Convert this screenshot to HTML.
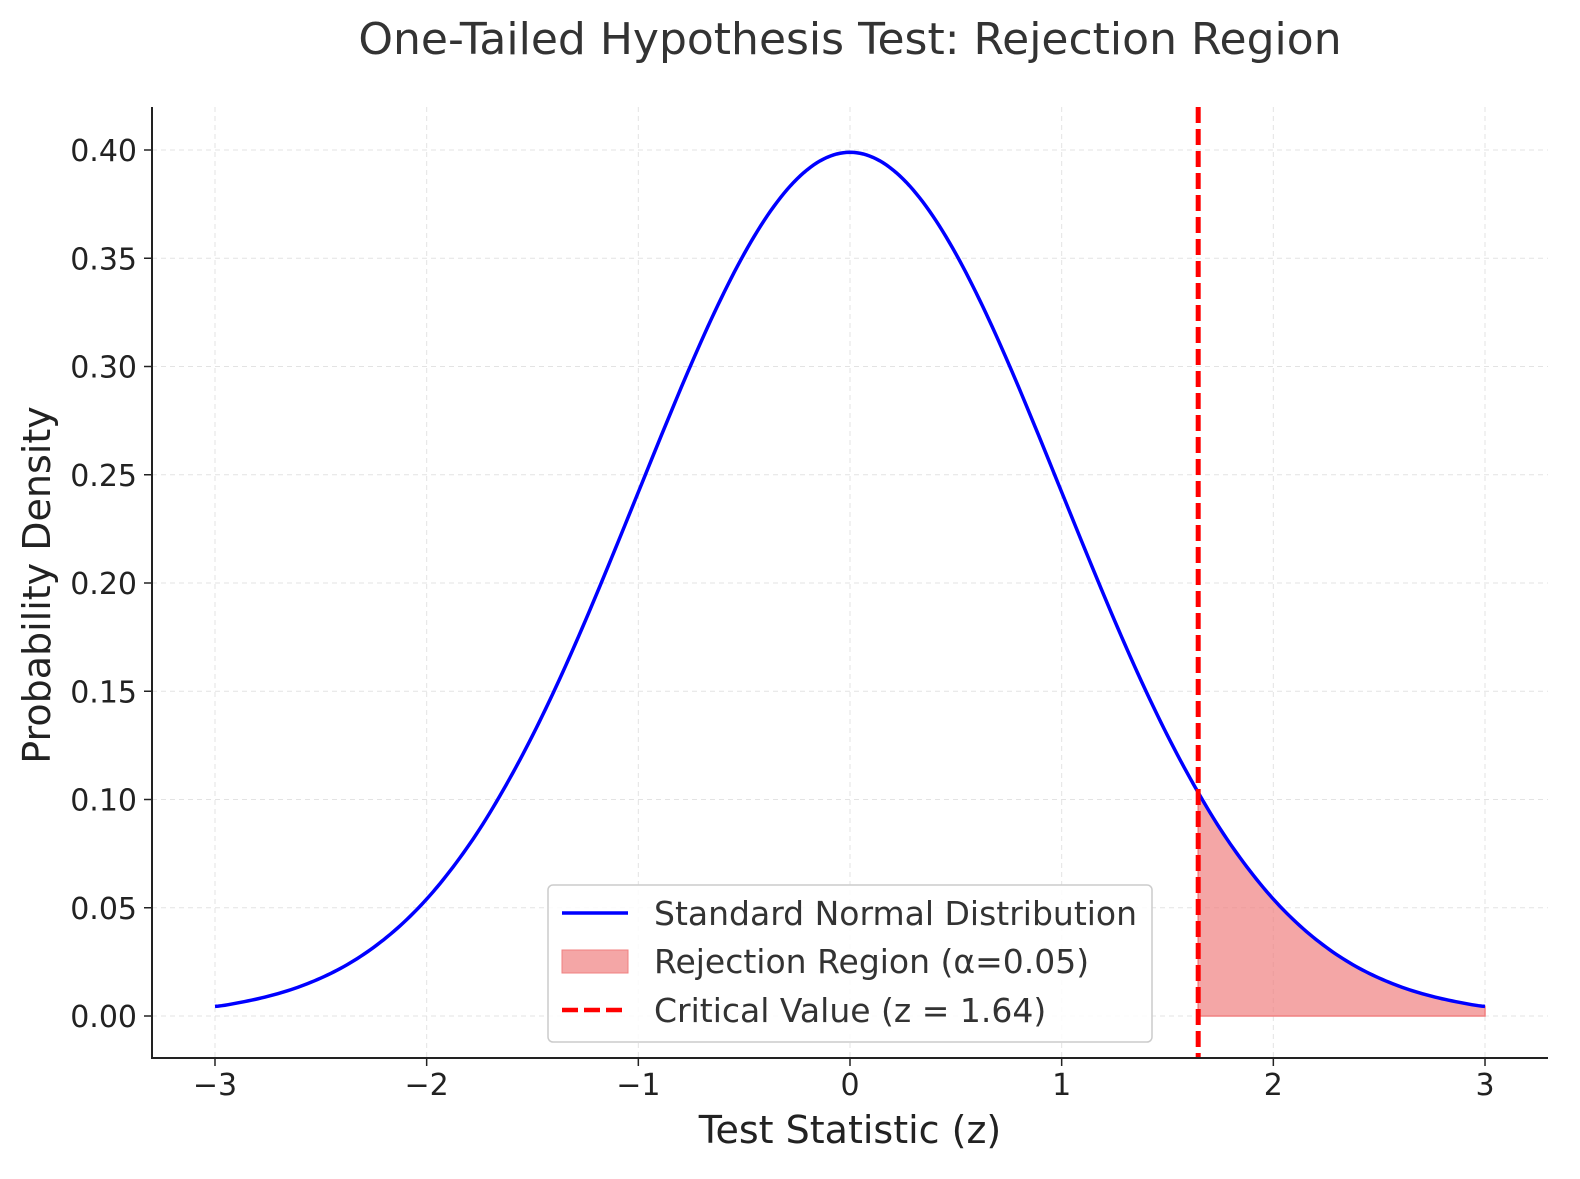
<!DOCTYPE html>
<html><head><meta charset="utf-8"><style>
html,body{margin:0;padding:0;background:#fff}
svg{display:block;font-family:"DejaVu Sans","Liberation Sans",sans-serif}
</style></head><body>
<svg id="chart" width="1580" height="1179" viewBox="0 0 1580 1179">
<text x="850" y="54" font-size="44" fill="#333" text-anchor="middle">One-Tailed Hypothesis Test: Rejection Region</text>
<g id="grid"></g>
<g id="fill"></g>
<g id="line"></g>
<g id="axes"></g>
<text x="850" y="1143" font-size="38" fill="#222" text-anchor="middle">Test Statistic (z)</text>
<text transform="translate(50,585) rotate(-90)" font-size="38" fill="#222" text-anchor="middle">Probability Density</text>
<g>
<rect x="548" y="885" width="604" height="157" rx="5" fill="#fff" fill-opacity="0.85" stroke="#ccc" stroke-width="1.5"/>
<g><line x1="562" y1="913" x2="628" y2="913" stroke="#0000ff" stroke-width="3.5"/><text x="654" y="925" font-size="33" fill="#333">Standard Normal Distribution</text></g>
<g><rect x="562" y="950" width="66" height="23" fill="#f08080" fill-opacity="0.7" stroke="#f08080"/><text x="654" y="973" font-size="33" fill="#333">Rejection Region (α=0.05)</text></g>
<g><line x1="562" y1="1010" x2="628" y2="1010" stroke="#ff0000" stroke-width="4.5" stroke-dasharray="16,6"/><text x="654" y="1022" font-size="33" fill="#333">Critical Value (z = 1.64)</text></g>
</g>
</svg>
<script>
const xValues=[-3,-2.875,-2.75,-2.625,-2.5,-2.375,-2.25,-2.125,-2,-1.875,-1.75,-1.625,-1.5,-1.375,-1.25,-1.125,-1,-0.875,-0.75,-0.625,-0.5,-0.375,-0.25,-0.125,0,0.125,0.25,0.375,0.5,0.625,0.75,0.875,1,1.125,1.25,1.375,1.5,1.625,1.75,1.875,2,2.125,2.25,2.375,2.5,2.625,2.75,2.875,3];
const densities=[0.00443,0.00638,0.00909,0.0127,0.01753,0.02374,0.03174,0.04173,0.05399,0.06887,0.08628,0.10666,0.12952,0.15498,0.18265,0.21195,0.24197,0.27204,0.30114,0.32816,0.35207,0.37186,0.38667,0.39583,0.39894,0.39583,0.38667,0.37186,0.35207,0.32816,0.30114,0.27204,0.24197,0.21195,0.18265,0.15498,0.12952,0.10666,0.08628,0.06887,0.05399,0.04173,0.03174,0.02374,0.01753,0.0127,0.00909,0.00638,0.00443];
const criticalValue=1.645;
const xTicks=[-3,-2,-1,0,1,2,3];
const yTicks=[0,0.05,0.1,0.15,0.2,0.25,0.3,0.35,0.4];
const NS='http://www.w3.org/2000/svg';
const X=v=>850+v*211.67, Y=v=>1016-v*2165;
function mk(t,a,p){const e=document.createElementNS(NS,t);for(const k in a)e.setAttribute(k,a[k]);p.appendChild(e);return e;}
function sample(){const pts=[];for(let i=0;i<xValues.length-1;i++){const p0=densities[Math.max(i-1,0)],p1=densities[i],p2=densities[i+1],p3=densities[Math.min(i+2,densities.length-1)];
for(let s=0;s<8;s++){const t=s/8;const y=0.5*((2*p1)+(-p0+p2)*t+(2*p0-5*p1+4*p2-p3)*t*t+(-p0+3*p1-3*p2+p3)*t*t*t);pts.push([xValues[i]+(xValues[i+1]-xValues[i])*t,y]);}}
pts.push([xValues[xValues.length-1],densities[densities.length-1]]);return pts;}
const pts=sample();
const grid=document.getElementById('grid'),axes=document.getElementById('axes');
xTicks.forEach(v=>{const g=mk('line',{x1:X(v),x2:X(v),y1:107,y2:1058,stroke:'#e3e3e3','stroke-dasharray':'5,4','stroke-width':1},grid);

const tk=mk('line',{x1:X(v),x2:X(v),y1:1058,y2:1066,stroke:'#222','stroke-width':1.5},axes);

const t=mk('text',{x:X(v),y:1095,'font-size':30,fill:'#222','text-anchor':'middle'},axes);t.textContent=String(v).replace('-','−');
});
yTicks.forEach(v=>{const g=mk('line',{x1:152,x2:1548,y1:Y(v),y2:Y(v),stroke:'#e3e3e3','stroke-dasharray':'5,4','stroke-width':1},grid);

const tk=mk('line',{x1:144,x2:152,y1:Y(v),y2:Y(v),stroke:'#222','stroke-width':1.5},axes);

const t=mk('text',{x:137,y:Y(v)+11,'font-size':30,fill:'#222','text-anchor':'end'},axes);t.textContent=v.toFixed(2);
});
const sp=mk('path',{d:'M152,107 V1058 H1548',fill:'none',stroke:'#222','stroke-width':2},axes);

function yAt(x){for(let i=0;i<pts.length-1;i++){if(x>=pts[i][0]&&x<=pts[i+1][0]){const t=(x-pts[i][0])/(pts[i+1][0]-pts[i][0]);return pts[i][1]+t*(pts[i+1][1]-pts[i][1]);}}return 0;}
let d='M'+X(criticalValue)+','+Y(0)+' L'+X(criticalValue)+','+Y(yAt(criticalValue));
pts.filter(p=>p[0]>criticalValue).forEach(p=>d+=' L'+X(p[0])+','+Y(p[1]));
d+=' L'+X(xValues[xValues.length-1])+','+Y(0)+' Z';
const f=mk('path',{d:d,fill:'#f08080','fill-opacity':0.7,stroke:'#f08080','stroke-width':1.5},document.getElementById('fill'));

const l=mk('path',{d:'M'+pts.map(p=>X(p[0])+','+Y(p[1])).join(' L'),fill:'none',stroke:'#0000ff','stroke-width':3.5},document.getElementById('line'));

const c=mk('line',{x1:X(criticalValue),x2:X(criticalValue),y1:107,y2:1058,stroke:'#ff0000','stroke-width':5,'stroke-dasharray':'16,6'},document.getElementById('line'));

</script>
</body></html>
